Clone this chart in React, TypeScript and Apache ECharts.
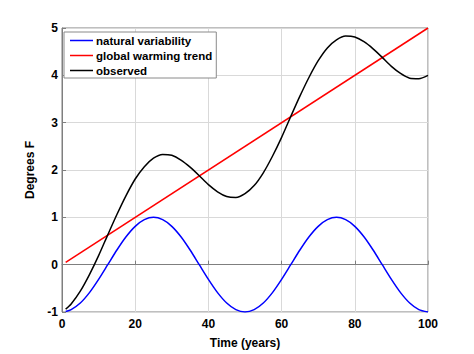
import React, { useEffect, useRef } from "react";
import * as echarts from "echarts";

const years = [1, 2.5, 5, 7.5, 10, 12.5, 15, 17.5, 20, 22.5, 25, 27.5, 30, 32.5, 35, 37.5, 40, 42.5, 45, 47.5, 50, 52.5, 55, 57.5, 60, 62.5, 65, 67.5, 70, 72.5, 75, 77.5, 80, 82.5, 85, 87.5, 90, 92.5, 95, 97.5, 100];
const natural = [-0.99, -0.95, -0.81, -0.59, -0.31, 0, 0.31, 0.59, 0.81, 0.95, 1.0, 0.95, 0.81, 0.59, 0.31, 0, -0.31, -0.59, -0.81, -0.95, -1.0, -0.95, -0.81, -0.59, -0.31, 0, 0.31, 0.59, 0.81, 0.95, 1.0, 0.95, 0.81, 0.59, 0.31, 0, -0.31, -0.59, -0.81, -0.95, -1.0];
const trendYears = [1, 100];
const trend = [0.05, 5.0];
const observed = [-0.94, -0.83, -0.56, -0.21, 0.19, 0.63, 1.06, 1.46, 1.81, 2.07, 2.25, 2.33, 2.31, 2.21, 2.06, 1.88, 1.69, 1.54, 1.44, 1.42, 1.5, 1.67, 1.94, 2.29, 2.69, 3.13, 3.56, 3.96, 4.31, 4.58, 4.75, 4.83, 4.81, 4.71, 4.56, 4.38, 4.19, 4.04, 3.94, 3.93, 4.0];
const seriesNames = ["natural variability", "global warming trend", "observed"];

const FONT = "Liberation Sans, Arial, sans-serif";

export default function App() {
  const ref = useRef<HTMLDivElement>(null);
  useEffect(() => {
    if (!ref.current) return;
    const chart = echarts.init(ref.current, undefined, { renderer: "svg" });
    const zip = (xs: number[], ys: number[]) => xs.map((x, i) => [x, ys[i]]);
    chart.setOption({
      animation: false,
      backgroundColor: "#fff",
      grid: { left: 62, right: 46, top: 28, bottom: 40, show: true, borderColor: "#7f7f7f", borderWidth: 1, backgroundColor: "transparent" },
      legend: {
        left: 64,
        top: 32,
        orient: "vertical",
        backgroundColor: "#fff",
        borderColor: "#8a8a8a",
        borderWidth: 1,
        borderRadius: 0,
        padding: [1, 4, 0, 6],
        itemGap: 0,
        itemWidth: 23,
        itemHeight: 1.5,
        icon: "rect",
        data: seriesNames,
        textStyle: { fontFamily: FONT, fontWeight: "bold", fontSize: 11.5, color: "#000", padding: [0, 0, 0, -2], lineHeight: 15 },
      },
      xAxis: {
        type: "value",
        min: 0,
        max: 100,
        interval: 20,
        name: "Time (years)",
        nameLocation: "middle",
        nameGap: 25,
        nameTextStyle: { fontFamily: FONT, fontWeight: "bold", fontSize: 12, color: "#000" },
        axisLine: { lineStyle: { color: "#7f7f7f" } },
        axisTick: { inside: true, length: 4, lineStyle: { color: "#7f7f7f" } },
        axisLabel: { fontFamily: FONT, fontWeight: "bold", fontSize: 12, color: "#000", margin: 6 },
        splitLine: { lineStyle: { color: "#d9d9d9", width: 1 } },
      },
      yAxis: {
        type: "value",
        min: -1,
        max: 5,
        interval: 1,
        name: "Degrees F",
        nameLocation: "middle",
        nameGap: 24,
        nameTextStyle: { fontFamily: FONT, fontWeight: "bold", fontSize: 12, color: "#000" },
        axisLine: { show: true, lineStyle: { color: "#7f7f7f" } },
        axisTick: { show: true, inside: true, length: 4, lineStyle: { color: "#7f7f7f" } },
        axisLabel: { fontFamily: FONT, fontWeight: "bold", fontSize: 12, color: "#000", margin: 4 },
        splitLine: { lineStyle: { color: "#d9d9d9", width: 1 } },
      },
      series: [
        { name: seriesNames[0], type: "line", data: zip(years, natural), smooth: 0.25, showSymbol: false, lineStyle: { color: "#0000ff", width: 1.5 }, itemStyle: { color: "#0000ff" } },
        { name: seriesNames[1], type: "line", data: zip(trendYears, trend), showSymbol: false, lineStyle: { color: "#ff0000", width: 1.5 }, itemStyle: { color: "#ff0000" } },
        { name: seriesNames[2], type: "line", data: zip(years, observed), smooth: 0.25, showSymbol: false, lineStyle: { color: "#000000", width: 1.5 }, itemStyle: { color: "#000000" } },
      ],
    });
    return () => chart.dispose();
  }, []);
  return <div ref={ref} style={{ position: "fixed", left: 0, top: 0, width: 474, height: 354 }} />;
}
